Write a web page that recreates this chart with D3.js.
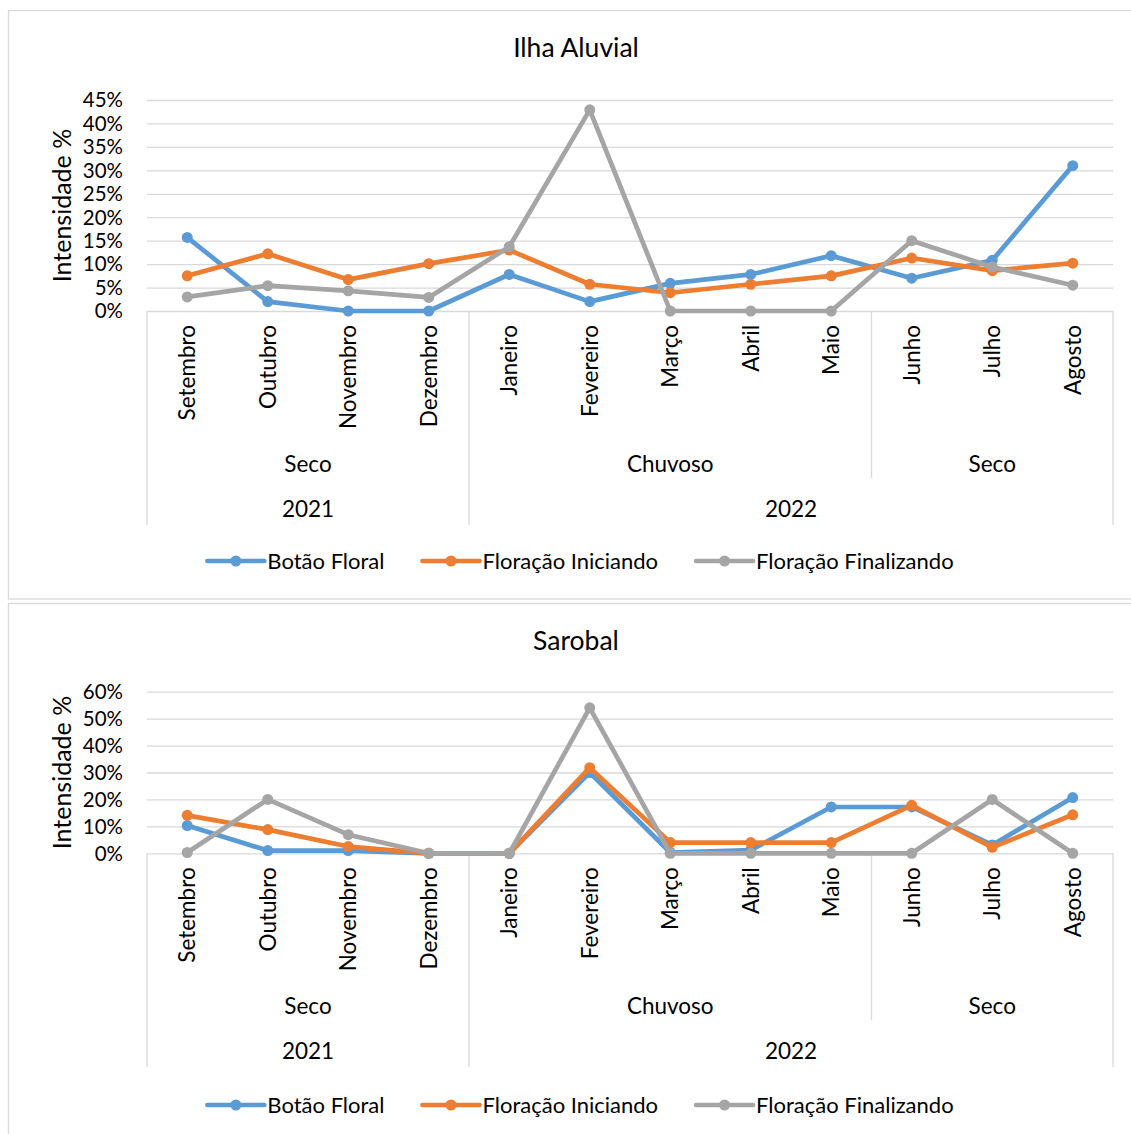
<!DOCTYPE html>
<head>
    <meta charset="utf-8">
    <script src="https://d3js.org/d3.v7.min.js"></script>
    <style>
        body { margin:0; background:#fff; }
        svg { font-family: 'Lato', sans-serif; fill: #000; }
        .box { fill: none; stroke: #d9d9d9; stroke-width: 1.3; }
        .grid line { stroke: #d9d9d9; stroke-width: 1.3; }
        .grid .domain { display: none; }
        .sep { stroke: #d9d9d9; stroke-width: 1.3; }
        .title { font-size: 26.5px; text-anchor: middle; }
        .tick-label { font-size: 20.5px; }
        .axis-title { font-size: 25px; text-anchor: middle; }
        .cat-label { font-size: 22.5px; }
        .legend-text { font-size: 22px; }
        .line { fill: none; stroke-width: 4.7; stroke-linejoin: round; stroke-linecap: round; }
    </style>
</head>

<body>
  <script>
    const months = ['Setembro', 'Outubro', 'Novembro', 'Dezembro', 'Janeiro', 'Fevereiro',
                    'Março', 'Abril', 'Maio', 'Junho', 'Julho', 'Agosto'];
    const seasons = ['Seco', 'Chuvoso', 'Seco'];
    const seasonLengths = [4, 5, 3];
    const years = ['2021', '2022'];
    const yearLengths = [4, 8];

    const seriesNames = ['Botão Floral', 'Floração Iniciando', 'Floração Finalizando'];
    const seriesColors = ['#5B9BD5', '#ED7D31', '#A5A5A5'];

    // Ilha Aluvial (%)
    const ilhaBotao       = [15.7, 2.0, 0, 0, 7.8, 2.0, 5.9, 7.8, 11.8, 7.0, 10.8, 31.0];
    const ilhaIniciando   = [7.5, 12.2, 6.7, 10.1, 13.0, 5.7, 3.9, 5.7, 7.5, 11.3, 8.6, 10.2];
    const ilhaFinalizando = [3.0, 5.4, 4.3, 2.9, 13.7, 42.9, 0, 0, 0, 15.0, 9.4, 5.5];
    const ilhaTicks = [0, 5, 10, 15, 20, 25, 30, 35, 40, 45];

    // Sarobal (%)
    const sarobalBotao       = [10.3, 1.0, 1.0, 0, 0, 30.0, 0.3, 1.2, 17.2, 17.2, 3.1, 20.7];
    const sarobalIniciando   = [14.1, 8.8, 2.5, 0, 0, 31.8, 4.0, 4.0, 4.0, 17.8, 2.2, 14.3];
    const sarobalFinalizando = [0.3, 20.0, 6.9, 0, 0, 54.0, 0, 0, 0, 0, 20.0, 0];
    const sarobalTicks = [0, 10, 20, 30, 40, 50, 60];

    const width = 1131;
    const height = 1134;
    const plotLeft = 147;
    const plotRight = 1113;

    const svg = d3.select('body').append('svg')
        .attr('width', width)
        .attr('height', height);

    const xScale = d3.scaleBand()
        .domain(months)
        .range([plotLeft, plotRight]);

    function cumulative(lengths) {
        const out = [0];
        lengths.forEach(l => out.push(out[out.length - 1] + l));
        return out;
    }

    function drawChart(cfg) {
        const g = svg.append('g');
        const yScale = d3.scaleLinear()
            .domain([0, d3.max(cfg.ticks)])
            .range([cfg.plotBottom, cfg.plotTop]);

        g.append('rect')
            .attr('class', 'box')
            .attr('x', 8.5)
            .attr('y', cfg.boxTop)
            .attr('width', 1150)
            .attr('height', cfg.boxHeight);

        g.append('text')
            .attr('class', 'title')
            .attr('x', 576)
            .attr('y', cfg.titleY)
            .text(cfg.title);

        // gridlines
        g.append('g')
            .attr('class', 'grid')
            .attr('transform', `translate(${plotLeft},0)`)
            .call(d3.axisLeft(yScale)
                .tickValues(cfg.ticks)
                .tickSize(-(plotRight - plotLeft))
                .tickFormat(''));

        // y tick labels
        g.append('g')
            .selectAll('text')
            .data(cfg.ticks)
            .join('text')
            .attr('class', 'tick-label')
            .attr('x', 123)
            .attr('y', d => yScale(d))
            .attr('dy', '0.36em')
            .attr('text-anchor', 'end')
            .text(d => d + '%');

        g.append('text')
            .attr('class', 'axis-title')
            .attr('transform', `translate(62,${(cfg.plotTop + cfg.plotBottom) / 2}) rotate(-90)`)
            .attr('dy', '0.35em')
            .text('Intensidade %');

        // month labels
        const xAxis = g.append('g')
            .attr('transform', `translate(0,${cfg.plotBottom})`)
            .call(d3.axisBottom(xScale).tickSize(0));
        xAxis.select('.domain').remove();
        xAxis.attr('font-size', null).attr('font-family', null);
        xAxis.selectAll('text')
            .attr('class', 'cat-label')
            .attr('fill', '#000')
            .attr('transform', 'rotate(-90)')
            .attr('x', -14)
            .attr('y', 0)
            .attr('dy', '0.36em')
            .attr('text-anchor', 'end');

        // group labels
        const seasonEdges = cumulative(seasonLengths);
        const yearEdges = cumulative(yearLengths);
        const bw = xScale.bandwidth();
        const edgeX = i => plotLeft + i * bw;

        g.append('g').selectAll('text')
            .data(seasons)
            .join('text')
            .attr('class', 'cat-label')
            .attr('text-anchor', 'middle')
            .attr('x', (d, i) => (edgeX(seasonEdges[i]) + edgeX(seasonEdges[i + 1])) / 2)
            .attr('y', cfg.plotBottom + 161)
            .text(d => d);

        g.append('g').selectAll('text')
            .data(years)
            .join('text')
            .attr('class', 'cat-label')
            .attr('text-anchor', 'middle')
            .attr('x', (d, i) => (edgeX(yearEdges[i]) + edgeX(yearEdges[i + 1])) / 2)
            .attr('y', cfg.plotBottom + 206)
            .text(d => d);

        const boundaries = d3.range(months.length + 1)
            .filter(i => seasonEdges.includes(i) || yearEdges.includes(i));
        g.append('g').selectAll('line')
            .data(boundaries)
            .join('line')
            .attr('class', 'sep')
            .attr('x1', i => edgeX(i))
            .attr('x2', i => edgeX(i))
            .attr('y1', cfg.plotBottom)
            .attr('y2', i => cfg.plotBottom + (yearEdges.includes(i) ? 214 : 167));

        // series
        const line = d3.line()
            .x((d, i) => xScale(months[i]) + bw / 2)
            .y(d => yScale(d));

        cfg.series.forEach((values, s) => {
            const sg = g.append('g');
            sg.append('path')
                .datum(values)
                .attr('class', 'line')
                .attr('stroke', seriesColors[s])
                .attr('d', line);
            sg.selectAll('circle')
                .data(values)
                .join('circle')
                .attr('cx', (d, i) => xScale(months[i]) + bw / 2)
                .attr('cy', d => yScale(d))
                .attr('r', 5.5)
                .attr('fill', seriesColors[s]);
        });

        // legend
        const legend = g.append('g')
            .attr('transform', `translate(0,${cfg.legendY})`);
        const items = legend.selectAll('g')
            .data(seriesNames)
            .join('g');
        items.append('line')
            .attr('x1', 0).attr('x2', 57)
            .attr('y1', 0).attr('y2', 0)
            .attr('stroke', (d, i) => seriesColors[i])
            .attr('stroke-width', 4.7)
            .attr('stroke-linecap', 'round');
        items.append('circle')
            .attr('cx', 28.5).attr('cy', 0).attr('r', 5.5)
            .attr('fill', (d, i) => seriesColors[i]);
        items.append('text')
            .attr('class', 'legend-text')
            .attr('x', 60)
            .attr('dy', '0.36em')
            .text(d => d);

        const widths = [];
        items.each(function() { widths.push(this.getBBox().width); });
        const gap = 38;
        const total = d3.sum(widths) + gap * (widths.length - 1);
        let cursor = 580.5 - total / 2;
        items.attr('transform', (d, i) => {
            const t = `translate(${cursor},0)`;
            cursor += widths[i] + gap;
            return t;
        });
    }

    drawChart({
        title: 'Ilha Aluvial',
        series: [ilhaBotao, ilhaIniciando, ilhaFinalizando],
        ticks: ilhaTicks,
        boxTop: 10.5,
        boxHeight: 588.5,
        titleY: 57,
        plotTop: 100,
        plotBottom: 311,
        legendY: 561
    });

    drawChart({
        title: 'Sarobal',
        series: [sarobalBotao, sarobalIniciando, sarobalFinalizando],
        ticks: sarobalTicks,
        boxTop: 603.5,
        boxHeight: 600,
        titleY: 650,
        plotTop: 691.7,
        plotBottom: 853.3,
        legendY: 1105
    });
  </script>
</body>
